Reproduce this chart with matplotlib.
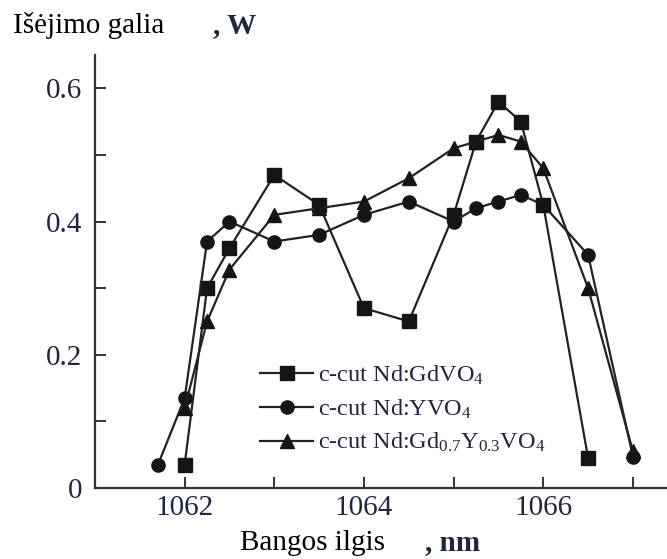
import matplotlib
matplotlib.use('Agg')
import matplotlib.pyplot as plt
import numpy as np

plt.rcParams['font.family'] = ['Liberation Serif', 'DejaVu Serif']
plt.rcParams['mathtext.fontset'] = 'custom'
plt.rcParams['mathtext.rm'] = 'Liberation Serif'
plt.rcParams['mathtext.it'] = 'Liberation Serif:italic'

# c-cut Nd:GdVO4
gd_x = [1062.0, 1062.25, 1062.5, 1063.0, 1063.5, 1064.0, 1064.5, 1065.0, 1065.25, 1065.5, 1065.75, 1066.0, 1066.5]
gd_y = [0.035, 0.30, 0.36, 0.47, 0.425, 0.27, 0.25, 0.41, 0.52, 0.58, 0.55, 0.425, 0.045]
# c-cut Nd:YVO4
yv_x = [1061.7, 1062.0, 1062.25, 1062.5, 1063.0, 1063.5, 1064.0, 1064.5, 1065.0, 1065.25, 1065.5, 1065.75, 1066.0, 1066.5, 1067.0]
yv_y = [0.034, 0.135, 0.37, 0.40, 0.37, 0.38, 0.41, 0.43, 0.40, 0.42, 0.43, 0.44, 0.425, 0.35, 0.047]
# c-cut Nd:Gd0.7Y0.3VO4
mix_x = [1062.0, 1062.25, 1062.5, 1063.0, 1063.5, 1064.0, 1064.5, 1065.0, 1065.25, 1065.5, 1065.75, 1066.0, 1066.5, 1067.0]
mix_y = [0.12, 0.25, 0.328, 0.41, 0.42, 0.43, 0.465, 0.51, 0.52, 0.53, 0.52, 0.48, 0.30, 0.055]

labels = [r'c-cut Nd:GdVO$\mathregular{_4}$',
          r'c-cut Nd:YVO$\mathregular{_4}$',
          r'c-cut Nd:Gd$\mathregular{_{0.7}}$Y$\mathregular{_{0.3}}$VO$\mathregular{_4}$']

x_ticks = [1062, 1063, 1064, 1065, 1066, 1067]
x_tick_lbl = ['1062', '', '1064', '', '1066', '']
y_ticks = [0, 0.1, 0.2, 0.3, 0.4, 0.5, 0.6]
y_tick_lbl = ['0', '', '0.2', '', '0.4', '', '0.6']

lc = '#222222'
tc = '#1f2740'

fig = plt.figure(figsize=(6.67, 5.59), dpi=100)
ax = fig.add_axes([95/667, 71/559, 572/667, 433/559])

kw = dict(color=lc, linewidth=1.6, markersize=9.5, markerfacecolor='#151515', markeredgecolor='#151515')
ax.plot(gd_x, gd_y, marker='s', label=labels[0], **kw)
ax.plot(yv_x, yv_y, marker='o', label=labels[1], **kw)
ax.plot(mix_x, mix_y, marker='^', label=labels[2], **kw)

ax.set_xlim(1061.0, 1067.38)
ax.set_ylim(0, 0.65)
ax.spines['top'].set_visible(False)
ax.spines['right'].set_visible(False)
for s in ['left', 'bottom']:
    ax.spines[s].set_linewidth(1.6)
    ax.spines[s].set_color('#333333')

ax.set_xticks(x_ticks)
ax.set_xticklabels(x_tick_lbl)
ax.set_yticks(y_ticks)
ax.set_yticklabels(y_tick_lbl)
ax.tick_params(direction='in', length=8, width=1.4, color='#333333', labelsize=21, labelcolor=tc)
ax.tick_params(axis='y', pad=9)
ax.tick_params(axis='x', pad=5)

leg = ax.legend(loc='upper left', bbox_to_anchor=(165/572, 124/433), frameon=False,
                fontsize=17.5, handlelength=2.2, handletextpad=0.2, labelspacing=0.42,
                borderpad=0, borderaxespad=0)
for t in leg.get_texts():
    t.set_color(tc)

fig.text(13/667, 1 - 33/559, 'Išėjimo galia', fontsize=21, color='black', va='baseline')
fig.text(213/667, 1 - 33/559, ', W', fontsize=21, color=tc, fontweight='bold', va='baseline')
fig.text(240/667, 1 - 550/559, 'Bangos ilgis', fontsize=21, color='black', va='baseline')
fig.text(425/667, 1 - 550/559, ', nm', fontsize=21, color=tc, fontweight='bold', va='baseline')

plt.savefig('out.png', dpi=100)
